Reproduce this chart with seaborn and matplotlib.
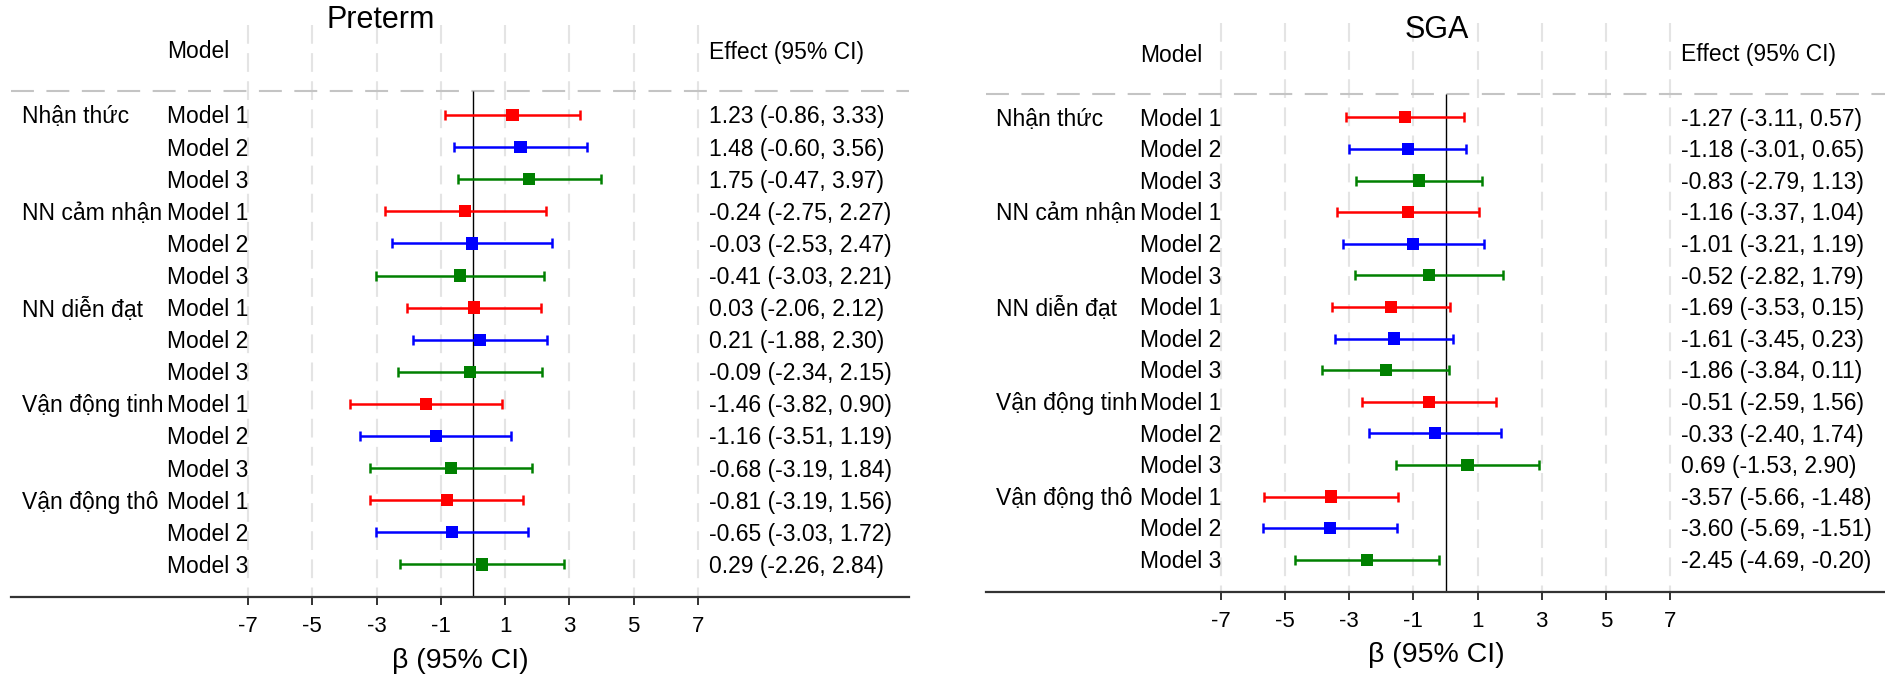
import matplotlib
matplotlib.use("Agg")
import matplotlib.pyplot as plt
import numpy as np
import pandas as pd
import seaborn as sns

# ---- data -------------------------------------------------------------
groups = ["Nhận thức", "NN cảm nhận", "NN diễn đạt", "Vận động tinh", "Vận động thô"]
models = ["Model 1", "Model 2", "Model 3"]

preterm_beta = [1.23, 1.48, 1.75, -0.24, -0.03, -0.41, 0.03, 0.21, -0.09,
                -1.46, -1.16, -0.68, -0.81, -0.65, 0.29]
preterm_lower = [-0.86, -0.60, -0.47, -2.75, -2.53, -3.03, -2.06, -1.88, -2.34,
                 -3.82, -3.51, -3.19, -3.19, -3.03, -2.26]
preterm_upper = [3.33, 3.56, 3.97, 2.27, 2.47, 2.21, 2.12, 2.30, 2.15,
                 0.90, 1.19, 1.84, 1.56, 1.72, 2.84]

sga_beta = [-1.27, -1.18, -0.83, -1.16, -1.01, -0.52, -1.69, -1.61, -1.86,
            -0.51, -0.33, 0.69, -3.57, -3.60, -2.45]
sga_lower = [-3.11, -3.01, -2.79, -3.37, -3.21, -2.82, -3.53, -3.45, -3.84,
             -2.59, -2.40, -1.53, -5.66, -5.69, -4.69]
sga_upper = [0.57, 0.65, 1.13, 1.04, 1.19, 1.79, 0.15, 0.23, 0.11,
             1.56, 1.74, 2.90, -1.48, -1.51, -0.20]

x_ticks = [-7, -5, -3, -1, 1, 3, 5, 7]
model_colors = ["#FF0000", "#0000FF", "#008000"]

# ---- style ------------------------------------------------------------
sns.set_theme(style="white")
plt.rcParams["font.family"] = ["Liberation Sans", "DejaVu Sans"]
plt.rcParams["text.color"] = "black"

W, H = 1885, 676
fig = plt.figure(figsize=(W / 100, H / 100), dpi=100)

BODY = 16.5


def make_table(beta, lower, upper):
    rows = []
    for g_i, g in enumerate(groups):
        for m_i, m in enumerate(models):
            k = g_i * len(models) + m_i
            rows.append({"group": g, "model": m, "row": k + 1,
                         "beta": beta[k], "lower": lower[k], "upper": upper[k]})
    return pd.DataFrame(rows)


def draw_panel(df, title, box, zero_px, unit_px, row1_px, row_px,
               title_px, header_px, xlabel_px):
    left, right, top, bottom = box
    ax = fig.add_axes([left / W, 1 - bottom / H, (right - left) / W, (bottom - top) / H])

    def rx(px):
        return (px - zero_px) / unit_px

    def ry(px):
        return 1 + (px - row1_px) / row_px

    x0, x1 = rx(left), rx(right)
    y_top, y_bot = ry(top), ry(bottom)

    # light dashed vertical guides at tick positions
    ax.vlines(x_ticks, y_top, y_bot, colors="#E4E4E4", linewidth=1.5,
              linestyles=(0, (9, 4.5)), zorder=0)
    # dashed separator under the header
    ax.plot([x0, x1], [0.25, 0.25], color="#C4C4C4", linewidth=1.5,
            dashes=(11, 6), zorder=1, clip_on=False)
    # reference line at zero
    ax.vlines(0, 0.25, y_bot, colors="black", linewidth=1.0, zorder=2)

    # confidence intervals
    for m, c in zip(models, model_colors):
        sub = df[df["model"] == m]
        ax.errorbar(sub["beta"], sub["row"],
                    xerr=[sub["beta"] - sub["lower"], sub["upper"] - sub["beta"]],
                    fmt="none", ecolor=c, elinewidth=1.8, capsize=3.8,
                    capthick=1.8, zorder=3)
    # point estimates
    sns.scatterplot(data=df, x="beta", y="row", hue="model", hue_order=models,
                    palette=model_colors, marker="s", s=78, linewidth=0,
                    legend=False, ax=ax, zorder=4)

    ax.set_xlim(x0, x1)
    ax.set_ylim(y_bot, y_top)

    # row texts
    x_group, x_model, x_effect = -14.02, -9.53, 7.34
    dy = 0.06
    for _, r in df.iterrows():
        if r["model"] == models[0]:
            ax.text(x_group, r["row"] + dy, r["group"], ha="left", va="center",
                    fontsize=BODY, clip_on=False)
        ax.text(x_model, r["row"] + dy, r["model"], ha="left", va="center",
                fontsize=BODY)
        label = f"{r['beta']:.2f} ({r['lower']:.2f}, {r['upper']:.2f})"
        ax.text(x_effect, r["row"] + dy, label, ha="left", va="center",
                fontsize=BODY)

    ax.text(x_model, ry(header_px), "Model", ha="left", va="center", fontsize=BODY)
    ax.text(x_effect, ry(header_px), "Effect (95% CI)", ha="left", va="center",
            fontsize=BODY)
    ax.text(rx(title_px[0]), ry(title_px[1]), title, ha="center", va="center",
            fontsize=22, clip_on=False)
    ax.text(rx(xlabel_px[0]), ry(xlabel_px[1]), "β (95% CI)", ha="center",
            va="center", fontsize=20.5, clip_on=False)

    # axes dressing
    for side in ("left", "right", "top"):
        ax.spines[side].set_visible(False)
    ax.spines["bottom"].set_color("#333333")
    ax.spines["bottom"].set_linewidth(1.6)
    ax.set_xticks(x_ticks)
    ax.set_xticklabels([str(t) for t in x_ticks])
    ax.set_yticks([])
    ax.tick_params(axis="x", bottom=True, length=6, width=1.4, color="#333333",
                   pad=8, labelsize=16, labelcolor="black")
    ax.set_xlabel("")
    ax.set_ylabel("")
    ax.grid(False)
    ax.set_facecolor("none")
    return ax


preterm = make_table(preterm_beta, preterm_lower, preterm_upper)
sga = make_table(sga_beta, sga_lower, sga_upper)

draw_panel(preterm, "Preterm", box=(11, 909, 25, 596.5), zero_px=473,
           unit_px=32.14, row1_px=115, row_px=32.1,
           title_px=(381, 19.5), header_px=52, xlabel_px=(460, 661))
draw_panel(sga, "SGA", box=(986, 1885, 23, 591.7), zero_px=1445.5,
           unit_px=32.07, row1_px=117.3, row_px=31.6,
           title_px=(1437, 30), header_px=55, xlabel_px=(1436, 655))

fig.savefig("out.png", dpi=100, facecolor="white")
